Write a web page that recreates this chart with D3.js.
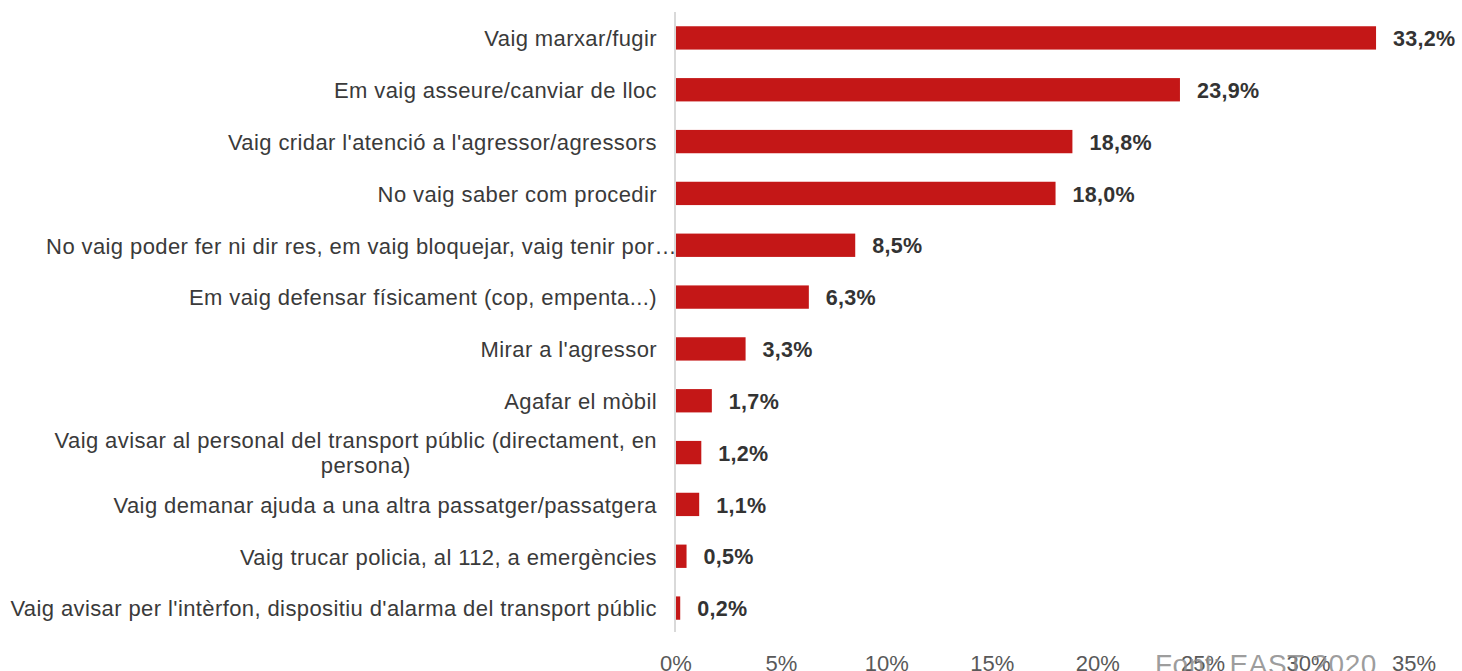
<!DOCTYPE html>
<html>
<head>
<meta charset="utf-8">
<script src="https://cdn.jsdelivr.net/npm/d3@7"></script>
<style>
  body { margin: 0; background: #fff; }
  svg { display: block; font-family: "Liberation Sans", Arial, sans-serif; }
</style>
</head>
<body>
<div id="chart"></div>
<script>
const categories = [
  "Vaig marxar/fugir",
  "Em vaig asseure/canviar de lloc",
  "Vaig cridar l'atenció a l'agressor/agressors",
  "No vaig saber com procedir",
  "No vaig poder fer ni dir res, em vaig bloquejar, vaig tenir por…",
  "Em vaig defensar físicament (cop, empenta...)",
  "Mirar a l'agressor",
  "Agafar el mòbil",
  "Vaig avisar al personal del transport públic (directament, en|persona)",
  "Vaig demanar ajuda a una altra passatger/passatgera",
  "Vaig trucar policia, al 112, a emergències",
  "Vaig avisar per l'intèrfon, dispositiu d'alarma del transport públic"
];
const values = [33.2, 23.9, 18.8, 18.0, 8.5, 6.3, 3.3, 1.7, 1.2, 1.1, 0.5, 0.2];
const tickValues = [0, 5, 10, 15, 20, 25, 30, 35];
const source = "Font: EAST 2020";

const width = 1462, height = 671;
const fmt = v => v.toFixed(1).replace(".", ",") + "%";

const svg = d3.select("#chart").append("svg")
  .attr("width", width)
  .attr("height", height);

const x = d3.scaleLinear().domain([0, 35]).range([676, 1414]);
const y = d3.scaleBand()
  .domain(d3.range(categories.length))
  .range([12, 634])
  .paddingInner(0.55)
  .paddingOuter(0.275);

// axis line
svg.append("line")
  .attr("x1", 675).attr("x2", 675)
  .attr("y1", 12).attr("y2", 632)
  .attr("stroke", "#d9d9d9")
  .attr("stroke-width", 2);

// bars
svg.append("g")
  .selectAll("rect")
  .data(values)
  .join("rect")
  .attr("x", x(0))
  .attr("y", (d, i) => y(i))
  .attr("width", d => x(d) - x(0))
  .attr("height", y.bandwidth())
  .attr("fill", "#c41717");

// value labels
svg.append("g")
  .selectAll("text")
  .data(values)
  .join("text")
  .attr("x", d => x(d) + 17)
  .attr("y", (d, i) => y(i) + y.bandwidth() / 2)
  .attr("dy", "0.38em")
  .attr("font-size", 21.5)
  .attr("letter-spacing", 0.3)
  .attr("font-weight", "bold")
  .attr("fill", "#333")
  .text(fmt);

// category labels
const labels = svg.append("g")
  .selectAll("text")
  .data(categories)
  .join("text")
  .attr("font-size", 22)
  .attr("letter-spacing", 0.4)
  .attr("fill", "#3a3a3a")
  .attr("text-anchor", "end");

labels.each(function (d, i) {
  const t = d3.select(this);
  const cy = y(i) + y.bandwidth() / 2;
  const lines = d.split("|");
  const xEnd = i === 4 ? 677 : 657;
  if (lines.length === 1) {
    t.attr("x", xEnd).attr("y", cy).attr("dy", "0.38em").text(d);
  } else {
    const first = t.append("tspan").attr("x", xEnd).attr("y", cy - 13).attr("dy", "0.38em").text(lines[0]);
    const w = first.node().getComputedTextLength();
    t.append("tspan")
      .attr("x", xEnd - w / 2 + 10)
      .attr("y", cy + 12)
      .attr("dy", "0.38em")
      .attr("text-anchor", "middle")
      .text(lines[1]);
  }
});

// tick labels
svg.append("g")
  .selectAll("text")
  .data(tickValues)
  .join("text")
  .attr("x", d => x(d))
  .attr("y", 663)
  .attr("dy", "0.36em")
  .attr("text-anchor", "middle")
  .attr("font-size", 22)
  .attr("fill", "#595959")
  .text(d => d + "%");

// source (overlapping ticks, as in the original)
svg.append("text")
  .attr("x", 1155)
  .attr("y", 664)
  .attr("dy", "0.36em")
  .attr("font-size", 28)
  .attr("letter-spacing", 0.5)
  .attr("fill", "#8c8c8c")
  .attr("fill-opacity", 0.85)
  .text(source);
</script>
</body>
</html>
